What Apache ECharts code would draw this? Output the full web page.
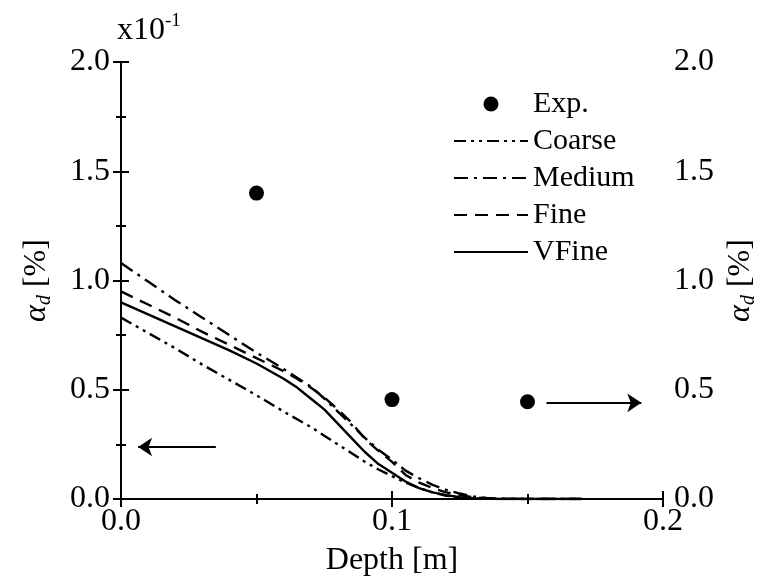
<!DOCTYPE html>
<html>
<head>
<meta charset="utf-8">
<script src="https://cdn.jsdelivr.net/npm/echarts@6/dist/echarts.min.js"></script>
<style>
  html, body { margin: 0; padding: 0; background: #fff; }
  #chart { width: 767px; height: 585px; }
</style>
</head>
<body>
<div id="chart"></div>
<script>
// Dispersed-phase fraction profiles (values in units of 1e-1 %)
const depth  = [0, 0.01, 0.02, 0.03, 0.04, 0.05, 0.06, 0.065, 0.07, 0.075, 0.08, 0.085, 0.09, 0.095, 0.10, 0.105, 0.11, 0.115, 0.12, 0.125, 0.13, 0.135, 0.14, 0.15, 0.17];
const coarse = [0.83, 0.76, 0.69, 0.615, 0.545, 0.475, 0.40, 0.365, 0.33, 0.29, 0.25, 0.21, 0.17, 0.135, 0.105, 0.075, 0.05, 0.03, 0.015, 0.007, 0.003, 0.001, 0, 0, 0];
const medium = [1.08, 0.995, 0.91, 0.83, 0.75, 0.67, 0.595, 0.555, 0.515, 0.46, 0.40, 0.34, 0.28, 0.225, 0.18, 0.13, 0.095, 0.065, 0.042, 0.025, 0.012, 0.005, 0.002, 0, 0];
const fine   = [0.95, 0.89, 0.83, 0.765, 0.705, 0.645, 0.585, 0.55, 0.51, 0.465, 0.41, 0.35, 0.275, 0.22, 0.17, 0.11, 0.075, 0.05, 0.03, 0.018, 0.008, 0.003, 0.001, 0, 0];
const vfine  = [0.90, 0.845, 0.79, 0.735, 0.68, 0.62, 0.55, 0.51, 0.46, 0.41, 0.345, 0.28, 0.215, 0.16, 0.12, 0.08, 0.05, 0.03, 0.018, 0.008, 0.003, 0.001, 0, 0, 0];

const expDepth = [0.05, 0.10, 0.15];
const expAlpha = [1.40, 0.455, 0.445];

const xTicks = [0.0, 0.1, 0.2];
const yTicks = [0.0, 0.5, 1.0, 1.5, 2.0];

// Arrows pointing each experimental group toward its axis
const arrowLeft  = [[0.035, 0.238], [0.0063, 0.238]];
const arrowRight = [[0.157, 0.44], [0.192, 0.44]];

const FONT = "'Liberation Serif', 'Times New Roman', serif";
const zip = (xs, ys) => xs.map((x, i) => [x, ys[i]]);

const axisCommon = {
  type: 'value',
  axisLine: { show: true, lineStyle: { color: '#000', width: 2 } },
  axisTick: { show: true, inside: true, length: 8, lineStyle: { color: '#000', width: 2 } },
  minorTick: { show: true, splitNumber: 2, length: 5, lineStyle: { color: '#000', width: 2 } },
  splitLine: { show: false },
  minorSplitLine: { show: false }
};

const alphaName = '{a|α}{d|d}{t| [%]}';
const alphaRich = {
  a: { fontFamily: FONT, fontSize: 32, fontStyle: 'italic', color: '#000', lineHeight: 36 },
  d: { fontFamily: FONT, fontSize: 20, fontStyle: 'italic', color: '#000', verticalAlign: 'bottom', lineHeight: 20 },
  t: { fontFamily: FONT, fontSize: 32, color: '#000', lineHeight: 36 }
};

const tickLabel = {
  show: true, fontFamily: FONT, fontSize: 32, color: '#000', margin: 11,
  formatter: v => v.toFixed(1)
};

// Model curves: line only, no point markers (also hidden in the legend key)
const lineSeries = (name, values, dash) => ({
  name, type: 'line', data: zip(depth, values),
  showSymbol: false, symbol: 'none',
  lineStyle: { color: '#000', width: 2.4, type: dash },
  itemStyle: { color: '#000', opacity: 0 },
  emphasis: { disabled: true },
  z: 3
});

const chart = echarts.init(document.getElementById('chart'), null, { renderer: 'canvas' });
chart.setOption({
  animation: false,
  backgroundColor: '#fff',
  grid: { left: 121, right: 102, top: 62, bottom: 86, containLabel: false },
  xAxis: [
    Object.assign({}, axisCommon, {
      min: xTicks[0], max: xTicks[xTicks.length - 1], interval: 0.1,
      position: 'bottom',
      axisLabel: Object.assign({}, tickLabel, { margin: 7 }),
      name: 'Depth [m]', nameLocation: 'middle', nameGap: 46,
      nameTextStyle: { fontFamily: FONT, fontSize: 32, color: '#000' }
    }),
    Object.assign({}, axisCommon, {
      min: xTicks[0], max: xTicks[xTicks.length - 1], interval: 0.1,
      position: 'top', axisLabel: { show: false }
    })
  ],
  yAxis: [
    Object.assign({}, axisCommon, {
      min: yTicks[0], max: yTicks[yTicks.length - 1], interval: 0.5,
      position: 'left', axisLabel: tickLabel,
      name: alphaName, nameLocation: 'middle', nameGap: 66, nameRotate: 90,
      nameTextStyle: { rich: alphaRich }
    }),
    Object.assign({}, axisCommon, {
      min: yTicks[0], max: yTicks[yTicks.length - 1], interval: 0.5,
      position: 'right', axisLabel: tickLabel,
      name: alphaName, nameLocation: 'middle', nameGap: 60, nameRotate: 90,
      nameTextStyle: { rich: alphaRich }
    })
  ],
  legend: {
    orient: 'vertical', left: 453, top: 89, padding: 0,
    itemWidth: 74, itemHeight: 15, itemGap: 7,
    selectedMode: false,
    textStyle: { fontFamily: FONT, fontSize: 30, color: '#000' },
    data: ['Exp.', 'Coarse', 'Medium', 'Fine', 'VFine']
  },
  graphic: [{
    type: 'text', left: 117, top: 12,
    style: {
      text: '{b|x10}{s|-1}',
      rich: {
        b: { fontFamily: FONT, fontSize: 32, color: '#000', lineHeight: 38 },
        s: { fontFamily: FONT, fontSize: 19, color: '#000', verticalAlign: 'top', lineHeight: 20 }
      }
    }
  }],
  series: [
    {
      name: 'Exp.', type: 'scatter', data: zip(expDepth, expAlpha),
      symbol: 'circle', symbolSize: 15,
      itemStyle: { color: '#000', opacity: 1 },
      emphasis: { disabled: true },
      z: 4,
      markLine: {
        silent: true, animation: false,
        symbol: ['none', 'arrow'], symbolSize: 14,
        label: { show: false },
        lineStyle: { color: '#000', width: 2, type: 'solid', opacity: 1 },
        data: [
          [{ coord: arrowLeft[0] }, { coord: arrowLeft[1] }],
          [{ coord: arrowRight[0] }, { coord: arrowRight[1] }]
        ]
      }
    },
    lineSeries('Coarse', coarse, [12, 5, 3, 5, 3, 5]),
    lineSeries('Medium', medium, [14, 6, 3, 6]),
    lineSeries('Fine', fine, [13, 8]),
    lineSeries('VFine', vfine, 'solid')
  ]
});
</script>
</body>
</html>
